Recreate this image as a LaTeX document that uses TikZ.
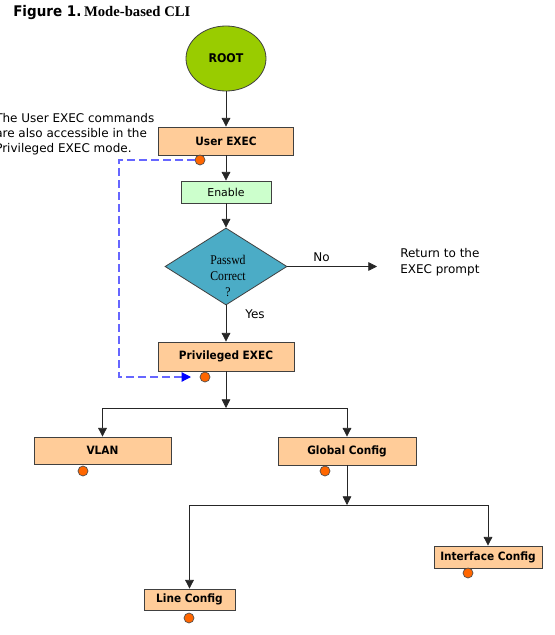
\documentclass[tikz,border=0pt]{standalone}
\usepackage{fontspec}
\setmainfont{DejaVu Sans}
\newfontfamily\boxfont[FakeStretch=0.92]{DejaVu Sans}
\newfontfamily\titleserif{Liberation Serif}
\newfontfamily\decisionfont[FakeStretch=0.88]{Liberation Serif}
\usepackage{xcolor}
\usepackage{tikz}
\usetikzlibrary{positioning, arrows.meta, shapes.geometric, calc}

\definecolor{peach}{HTML}{FFCC99}
\definecolor{rootgreen}{HTML}{99CC00}
\definecolor{enablegreen}{HTML}{CCFFCC}
\definecolor{decisionblue}{HTML}{4BACC6}
\definecolor{dotorange}{HTML}{FF6600}
\definecolor{boxline}{HTML}{404040}
\definecolor{dashblue}{HTML}{6666FF}

\begin{document}
\begin{tikzpicture}[
    x=0.75pt, y=-0.75pt,
    flow/.style={-{Stealth[inset=0pt, length=6.5pt, width=6.5pt]}, draw=black!85, line width=0.6pt},
    mode/.style={rectangle, draw=boxline, fill=peach, line width=0.6pt, inner sep=0pt, font=\boxfont\bfseries\fontsize{8.6}{10}\selectfont},
    rootnode/.style={ellipse, draw=boxline, fill=rootgreen, line width=0.6pt, inner sep=0pt, minimum width=60pt, minimum height=48.75pt, font=\boxfont\bfseries\fontsize{9}{10}\selectfont},
    enablebox/.style={rectangle, draw=boxline, fill=enablegreen, line width=0.6pt, inner sep=0pt, minimum width=67.5pt, minimum height=16.5pt, font=\fontsize{8.2}{10}\selectfont},
    decision/.style={diamond, draw=boxline, fill=decisionblue, line width=0.6pt, inner sep=0pt, minimum width=91.5pt, minimum height=57.75pt},
    modedot/.style={circle, draw=black!70, fill=dotorange, line width=0.5pt, inner sep=0pt, minimum size=7.5pt},
    note/.style={align=left, font=\fontsize{9}{11.25}\selectfont, inner sep=0pt},
    backlink/.style={draw=dashblue, line width=0.9pt, dash pattern=on 6pt off 3pt, -{Stealth[inset=0pt, length=7pt, width=7pt, blue]}}
]

\useasboundingbox (0,0) rectangle (555,635);

\node[anchor=base west, inner sep=0pt] (title) at (13,17)
    {{\boxfont\bfseries\fontsize{11}{13}\selectfont Figure 1.}\hspace{2pt}{\titleserif\bfseries\fontsize{11}{13}\selectfont Mode-based CLI}};

\node[rootnode] (root) at (226,58.5) {ROOT};
\node[mode, minimum width=101.25pt, minimum height=21pt] (user) at (226,141) {User EXEC};
\node[modedot] (udot) at (200,160) {};
\node[enablebox] (enable) at (226,192) {Enable};
\node[decision] (pwd) at (226,266.5) {};
\node[align=center, inner sep=0pt, font=\decisionfont\fontsize{10}{12}\selectfont] (pwdtext) at (228,276) {Passwd\\Correct\\?};
\node[mode, minimum width=102pt, minimum height=21.75pt] (priv) at (226,356.5) {Privileged EXEC};
\node[modedot] (pdot) at (205,377) {};

\node[note, anchor=west] (usernote) at (-5,134.5) {The User EXEC commands\\are also accessible in the\\Privileged EXEC mode.};
\node[note, anchor=west, font=\fontsize{9}{12}\selectfont] (retnote) at (400,262) {Return to the\\EXEC prompt};
\node[font=\fontsize{9}{10}\selectfont, inner sep=0pt] (yes) at (255,314) {Yes};

\node[mode, minimum width=102.75pt, minimum height=20.25pt] (vlan) at (102.5,450.5) {VLAN};
\node[modedot] (vdot) at (83,471) {};
\node[mode, minimum width=103.5pt, minimum height=21pt] (global) at (347,451) {Global Config};
\node[modedot] (gdot) at (325,471) {};
\node[mode, minimum width=81pt, minimum height=16.5pt] (iface) at (488,557) {Interface Config};
\node[modedot] (idot) at (468,573) {};
\node[mode, minimum width=68.25pt, minimum height=15.75pt] (linecfg) at (189.5,599.5) {Line Config};
\node[modedot] (ldot) at (189,618) {};

\coordinate (noend) at (377,266.5);
\coordinate (bend) at (119,160);
\coordinate (split1) at (226,408);
\coordinate (split2) at (347,505);

\draw[flow] (root) -- (user);
\draw[flow] (user) -- (enable);
\draw[flow] (enable) -- (pwd);
\draw[flow] (pwd.east) -- node[pos=0.38, above, font=\fontsize{9}{10}\selectfont] {No} (noend);
\draw[flow] (pwd) -- (priv);
\draw[backlink, shorten >=6.5pt] (udot) -- (bend) |- (pdot);

\draw[flow] (priv) -- (split1);
\draw[flow] (split1) -| (vlan);
\draw[flow] (split1) -| (global);
\draw[flow] (global) -- (split2);
\draw[flow] (split2) -| (linecfg);
\draw[flow] (split2) -| (iface);

\end{tikzpicture}
\end{document}
